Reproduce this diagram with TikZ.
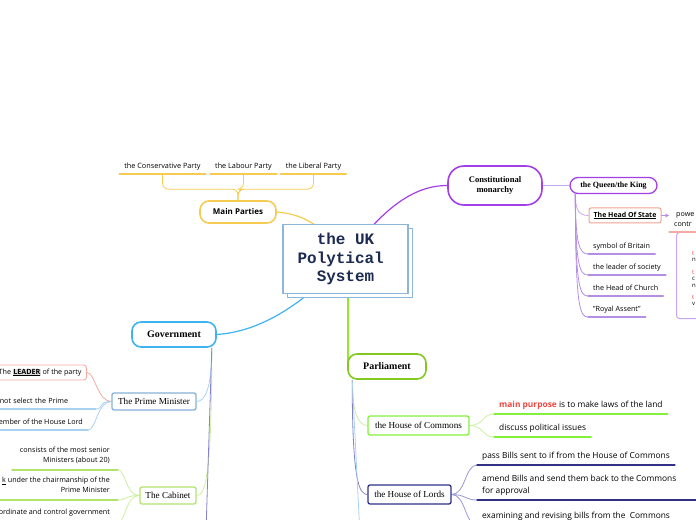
\documentclass[tikz,border=0pt]{standalone}
\usepackage{fontspec}
\setmainfont{Liberation Serif}
\setsansfont{Open Sans}
\newfontfamily\titlefont{Liberation Mono}
\usetikzlibrary{arrows.meta,calc,shadows,backgrounds}
\definecolor{titleblue}{HTML}{8DB6D8}
\definecolor{titleink}{HTML}{1C2B52}
\definecolor{partyyel}{HTML}{F6CB52}
\definecolor{monpurple}{HTML}{A23FE6}
\definecolor{monlight}{HTML}{C9A6F2}
\definecolor{qkbranch}{HTML}{B48FE3}
\definecolor{statered}{HTML}{F2A292}
\definecolor{govblue}{HTML}{3FB2F0}
\definecolor{pmblue}{HTML}{86B2D6}
\definecolor{pmline}{HTML}{A9D2F2}
\definecolor{leadred}{HTML}{F4ABA3}
\definecolor{cabgreen}{HTML}{B2E36E}
\definecolor{cabline}{HTML}{CDEFA0}
\definecolor{govpurple}{HTML}{8583C8}
\definecolor{pargreen}{HTML}{82C81F}
\definecolor{parline}{HTML}{94E62E}
\definecolor{comgreen}{HTML}{83F03D}
\definecolor{lordnavy}{HTML}{313087}
\definecolor{lordline}{HTML}{9A98D6}
\definecolor{keyred}{HTML}{F0473F}
\newcommand{\hilite}[1]{{\setlength{\fboxsep}{0.4pt}\colorbox{black!14}{\bfseries\underline{#1}}}}
\newcommand{\leafsize}{\fontsize{7.2}{10}\selectfont}
\begin{document}
\begin{tikzpicture}[x=1bp,y=-1bp,line cap=round,every node/.style={inner sep=0pt},
  topic/.style={draw,line width=1.6bp,fill=white,rounded corners=9bp,align=center,font=\bfseries\fontsize{10}{11}\selectfont},
  subtopic/.style={draw,line width=1.3bp,fill=white,rounded corners=2bp,font=\fontsize{9.2}{10}\selectfont},
  leaf/.style={anchor=south west,inner xsep=5bp,inner ysep=3bp,text depth=2bp,font=\sffamily\leafsize},
  leftleaf/.style={leaf,anchor=south east,align=right,inner ysep=5bp},
  bigleaf/.style={leaf,inner ysep=4bp,text depth=2.5bp,font=\sffamily\fontsize{8.4}{12}\selectfont,align=left},
  twig/.style={line width=0.8bp},link/.style={line width=1.2bp}]
\useasboundingbox (0,0) rectangle (696,520);
\clip (0,0) rectangle (696,520);
% centre
\node[draw=titleblue,line width=1.8bp,fill=white,minimum width=125bp,minimum height=69bp,
  copy shadow={shadow xshift=4.5bp,shadow yshift=-4bp},align=center,
  font=\titlefont\bfseries\fontsize{16}{18.5}\selectfont,text=titleink] (T) at (345.5,259) {the UK\\Polytical\phantom{x}\\System};
% main parties
\node[topic,draw=partyyel,font=\sffamily\bfseries\fontsize{8}{9}\selectfont,minimum width=76bp,minimum height=22bp] (MP) at (238,212) {Main Parties};
\node[leaf,anchor=south,font=\sffamily\fontsize{7.3}{9}\selectfont] (cons) at (162.5,174) {the Conservative Party};
\node[leaf,anchor=south,font=\sffamily\fontsize{7.3}{9}\selectfont] (lab) at (243.5,174) {the Labour Party};
\node[leaf,anchor=south,font=\sffamily\fontsize{7.3}{9}\selectfont] (lib) at (313.5,174) {the Liberal Party};
% monarchy
\node[topic,draw=monpurple,rounded corners=16bp,minimum width=94bp,minimum height=39bp,font=\bfseries\fontsize{8.6}{10.5}\selectfont] (CM) at (495,185.5) {Constitutional\\monarchy};
\node[topic,draw=monpurple,rounded corners=8bp,line width=1.3bp,minimum width=87bp,minimum height=16bp,font=\bfseries\fontsize{8}{9}\selectfont] (QK) at (613.5,185.5) {the Queen/the King};
\node[subtopic,draw=statered,line width=1bp,minimum width=72bp,minimum height=15bp,font=\sffamily\bfseries\fontsize{7}{8}\selectfont] (HS) at (625,215.5) {\underline{The Head Of State}};
\node[leaf] (sym) at (588,254) {symbol of Britain};
\node[leaf] (soc) at (588,275) {the leader of society};
\node[leaf] (chu) at (588,296) {the Head of Church};
\node[leaf] (roy) at (588,317) {"Royal Assent"};
\node[draw=monlight,line width=1bp,rounded corners=3bp,anchor=north west,minimum width=40bp,minimum height=86bp] (pwbox) at (676,232) {};
\node[leaf,align=left] (pw) at (669,232) {\hspace*{2bp}powe\\contr};
\node[anchor=north west,align=left,font=\sffamily\fontsize{6}{6.5}\selectfont] (pwtext) at (692,251) {\textcolor{keyred}{t}\\n\\[6bp]\textcolor{keyred}{t}\\c\\n\\[6bp]\textcolor{keyred}{t}\\v};
% government
\node[topic,draw=govblue,minimum width=84bp,minimum height=25bp] (Gov) at (174,334.5) {Government};
\node[subtopic,draw=pmblue,minimum width=84bp,minimum height=17bp] (PM) at (154,401.5) {The Prime Minister};
\node[subtopic,draw=leadred,line width=0.9bp,anchor=east,inner xsep=5bp,minimum height=15bp,rounded corners=3bp,font=\sffamily\leafsize] (ld) at (87,372.5) {The \hilite{LEADER} of the party};
\node[leaf,anchor=south east,text width=91bp,align=left] (nosel) at (96,409) {not select the Prime};
\node[leaf,anchor=south east] (memb) at (88,430) {ember of the House Lord};
\node[subtopic,draw=cabgreen,minimum width=56bp,minimum height=17bp] (Cab) at (168,495.5) {The Cabinet};
\node[leftleaf,inner xsep=8bp] (senior) at (118,470) {consists of the most senior\\Ministers (about 20)};
\node[leftleaf,inner xsep=8bp] (chair) at (118,500) {\underline{k} under the chairmanship of the\\Prime Minister};
\node[leftleaf,inner xsep=8bp] (coord) at (118,522) {ordinate and control government};
% parliament
\node[topic,draw=pargreen,minimum width=78bp,minimum height=25bp] (Pa) at (387,366.5) {Parliament};
\node[subtopic,draw=comgreen,minimum width=101bp,minimum height=19bp] (Com) at (418.5,425.5) {the House of Commons};
\node[subtopic,draw=lordnavy,minimum width=83bp,minimum height=19bp] (Lor) at (409.5,494.5) {the House of Lords};
\node[bigleaf] (law) at (494,414) {\textcolor{keyred}{\bfseries main purpose} is to make laws of the land};
\node[bigleaf] (issue) at (494,437) {discuss political issues};
\node[bigleaf] (pass) at (477,465) {pass Bills sent to if from the House of Commons};
\node[bigleaf] (amend) at (477,500) {amend Bills and send them back to the Commons\hspace{30bp}\mbox{}\\for approval};
\node[bigleaf] (exam) at (477,525) {examining and revising bills from the\ \ Commons};
% underlines
\foreach \n/\c in {cons/partyyel,lab/partyyel,lib/partyyel,sym/qkbranch,soc/qkbranch,chu/qkbranch,roy/qkbranch,pw/leadred,nosel/pmline,memb/pmline,senior/cabgreen,chair/cabgreen,coord/cabgreen,law/comgreen,issue/comgreen,pass/lordnavy,amend/lordnavy,exam/lordnavy}
  \draw[line width=1.1bp,\c] (\n.south west) -- (\n.south east);
\draw[-{Stealth[length=4bp,width=4bp]},qkbranch,line width=0.8bp] (HS.east) -- (HS.east -| pw.west);
% connectors
\begin{scope}[on background layer]
\draw[link,partyyel] (MP.east) .. controls +(29,2) and +(-17,-29) .. (T.center);
\draw[link,monpurple] (CM.west) .. controls +(-35,0) and +(36,-49) .. (T.center);
\draw[link,govblue] (Gov.east) .. controls +(43,-3) and +(-44,47) .. (T.center);
\draw[parline,line width=2bp] ($(T.center)+(2,0)$) |- (Pa.west);
\foreach \n in {cons,lab,lib}
  \draw[twig,partyyel,rounded corners=6bp] (MP.north) -- ++(0,-11) -| (\n.south);
\draw[link,monlight,line width=1.6bp] (CM.east) -- (QK.west);
\coordinate (qk) at ($(QK.south west)+(6,0)$);
\draw[twig,monlight] (qk) .. controls ($(qk |- HS.west)+(0,-6)$) and +(-10,0) .. (HS.west);
\foreach \n in {sym,soc,chu,roy}
  \draw[twig,qkbranch] (qk) .. controls ($(qk |- \n.south west)+(0,-8)$) and +(-8,0) .. (\n.south west);
\coordinate (gv) at ($(Gov.south east)+(-5,0)$);
\coordinate (gvend) at ($(gv)+(-6,190)$);
\draw[twig,pmline] (gv) .. controls ($(gv |- PM.east)+(0,-12)$) and +(8,0) .. (PM.east);
\draw[twig,cabline] (gv) .. controls ($(gv |- Cab.east)+(0,-14)$) and +(8,0) .. (Cab.east);
\draw[twig,govpurple] (gv) -- (gvend);
\foreach \n/\c in {ld.east/leadred,nosel.south east/pmline,memb.south east/pmline}
  \draw[twig,\c] (PM.west) .. controls +(-14,0) and +(8,0) .. (\n);
\foreach \n in {senior,chair,coord}
  \draw[twig,cabline] (Cab.west) .. controls +(-14,0) and +(8,0) .. (\n.south east);
\coordinate (pa) at ($(Pa.south west)+(5,0)$);
\coordinate (paend) at ($(pa)+(8,160)$);
\draw[twig,cabline] (pa) .. controls ($(pa |- Com.west)+(0,-10)$) and +(-8,0) .. (Com.west);
\draw[twig,govpurple] (pa) .. controls ($(pa |- Lor.west)+(0,-12)$) and +(-8,0) .. (Lor.west);
\draw[twig,pmline] (pa) -- (paend);
\foreach \n in {law,issue}
  \draw[twig,cabline] (Com.east) .. controls +(14,0) and +(-12,0) .. (\n.south west);
\foreach \n in {pass,amend,exam}
  \draw[twig,lordline] (Lor.east) .. controls +(14,0) and +(-12,0) .. (\n.south west);
\end{scope}
\end{tikzpicture}
\end{document}
